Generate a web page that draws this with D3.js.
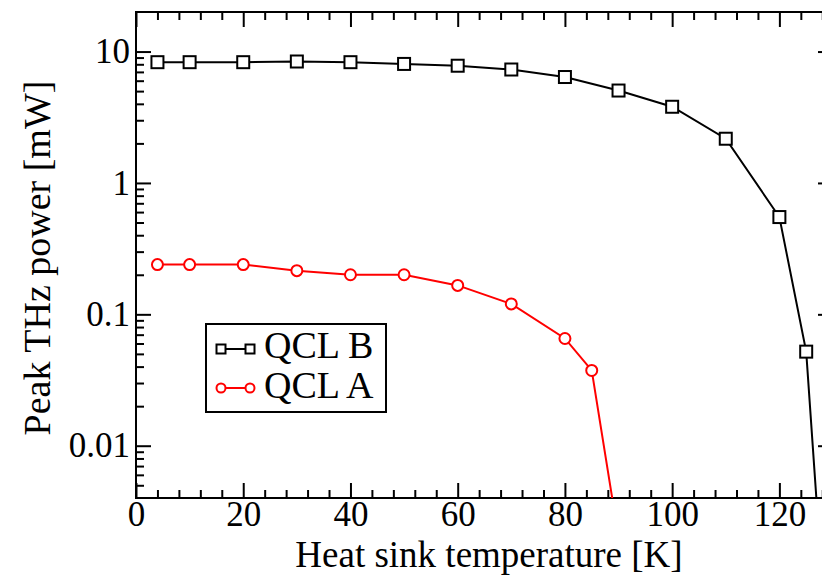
<!DOCTYPE html>
<html>
<head>
<meta charset="utf-8">
<script src="https://cdn.jsdelivr.net/npm/d3@7"></script>
<style>
  body { margin: 0; background: #fff; }
</style>
</head>
<body>
<div id="chart"></div>
<script>
// data
var tempB = [4, 10, 20, 30, 40, 50, 60, 70, 80, 90, 100, 110, 120, 125, 128];
var powerB = [8.3, 8.3, 8.3, 8.4, 8.3, 8.05, 7.8, 7.3, 6.4, 5.05, 3.8, 2.17, 0.55, 0.052, 0.0009];
var tempA = [4, 10, 20, 30, 40, 50, 60, 70, 80, 85, 90];
var powerA = [0.239, 0.239, 0.239, 0.215, 0.2, 0.2, 0.166, 0.12, 0.0655, 0.0374, 0.002];

var xTicks = [0, 20, 40, 60, 80, 100, 120];
var yTicks = [0.01, 0.1, 1, 10];
var yTickLabels = ["0.01", "0.1", "1", "10"];
var legendNames = ["QCL B", "QCL A"];

var FONT = "'Liberation Serif', 'Times New Roman', Times, serif";
var W = 822, H = 576;
var margin = {left: 136, top: 12, right: 833, bottom: 498};

var svg = d3.select("#chart").append("svg")
    .attr("width", W)
    .attr("height", H)
    .attr("font-family", FONT);

var x = d3.scaleLinear().domain([0, 130]).range([margin.left, margin.right]);
var y = d3.scaleLog().domain([0.004, 20]).range([margin.bottom, margin.top]);

svg.append("defs").append("clipPath")
    .attr("id", "plotclip")
  .append("rect")
    .attr("x", margin.left)
    .attr("y", margin.top)
    .attr("width", margin.right - margin.left)
    .attr("height", margin.bottom - margin.top);

// minor ticks
var xMinor = d3.range(0, 131, 4).filter(function(d) { return d % 20 != 0; });
var yMinor = [];
[0.001, 0.01, 0.1, 1, 10].forEach(function(dec) {
    for (var k = 2; k <= 9; k++) {
        var v = dec * k;
        if (v > 0.004 && v < 20) yMinor.push(v);
    }
});

var major = 15, minor = 8;

function styleAxis(g) {
    g.attr("font-family", FONT).attr("font-size", 35);
    g.select(".domain").remove();
    g.selectAll("line").attr("stroke", "#000").attr("stroke-width", 2);
    g.selectAll("text").attr("font-family", FONT).attr("fill", "#000");
}

// bottom
svg.append("g")
    .attr("transform", "translate(0," + margin.bottom + ")")
    .call(d3.axisBottom(x).tickValues(xTicks).tickSize(-major).tickPadding(3)
        .tickFormat(d3.format("d")))
    .call(styleAxis);
svg.append("g")
    .attr("transform", "translate(0," + margin.bottom + ")")
    .call(d3.axisBottom(x).tickValues(xMinor).tickSize(-minor).tickFormat(""))
    .call(styleAxis);
// top
svg.append("g")
    .attr("transform", "translate(0," + margin.top + ")")
    .call(d3.axisTop(x).tickValues(xTicks).tickSize(-major).tickFormat(""))
    .call(styleAxis);
svg.append("g")
    .attr("transform", "translate(0," + margin.top + ")")
    .call(d3.axisTop(x).tickValues(xMinor).tickSize(-minor).tickFormat(""))
    .call(styleAxis);
// left
svg.append("g")
    .attr("transform", "translate(" + margin.left + ",0)")
    .call(d3.axisLeft(y).tickValues(yTicks).tickSize(-major).tickPadding(6)
        .tickFormat(function(d, i) { return yTickLabels[i]; }))
    .call(styleAxis);
svg.append("g")
    .attr("transform", "translate(" + margin.left + ",0)")
    .call(d3.axisLeft(y).tickValues(yMinor).tickSize(-minor).tickFormat(""))
    .call(styleAxis);
// right
svg.append("g")
    .attr("transform", "translate(" + margin.right + ",0)")
    .call(d3.axisRight(y).tickValues(yTicks).tickSize(-major).tickFormat(""))
    .call(styleAxis);
svg.append("g")
    .attr("transform", "translate(" + margin.right + ",0)")
    .call(d3.axisRight(y).tickValues(yMinor).tickSize(-minor).tickFormat(""))
    .call(styleAxis);

// frame
svg.append("rect")
    .attr("x", margin.left)
    .attr("y", margin.top)
    .attr("width", margin.right - margin.left)
    .attr("height", margin.bottom - margin.top)
    .attr("fill", "none")
    .attr("stroke", "#000")
    .attr("stroke-width", 2);

// series
var line = d3.line()
    .x(function(d) { return x(d[0]); })
    .y(function(d) { return y(d[1]); });

var plot = svg.append("g").attr("clip-path", "url(#plotclip)");

var dataB = d3.zip(tempB, powerB);
var dataA = d3.zip(tempA, powerA);

plot.append("path")
    .datum(dataB)
    .attr("d", line)
    .attr("fill", "none")
    .attr("stroke", "#000")
    .attr("stroke-width", 2);
plot.selectAll(".sq")
    .data(dataB)
  .enter().append("rect")
    .attr("class", "sq")
    .attr("x", function(d) { return x(d[0]) - 6; })
    .attr("y", function(d) { return y(d[1]) - 6; })
    .attr("width", 12)
    .attr("height", 12)
    .attr("fill", "#fff")
    .attr("stroke", "#000")
    .attr("stroke-width", 2);

plot.append("path")
    .datum(dataA)
    .attr("d", line)
    .attr("fill", "none")
    .attr("stroke", "#ff0000")
    .attr("stroke-width", 2);
plot.selectAll(".ci")
    .data(dataA)
  .enter().append("circle")
    .attr("class", "ci")
    .attr("cx", function(d) { return x(d[0]); })
    .attr("cy", function(d) { return y(d[1]); })
    .attr("r", 5.5)
    .attr("fill", "#fff")
    .attr("stroke", "#ff0000")
    .attr("stroke-width", 2);

// axis titles
svg.append("text")
    .attr("x", 489)
    .attr("y", 567)
    .attr("text-anchor", "middle")
    .attr("font-size", 37)
    .text("Heat sink temperature [K]");

svg.append("text")
    .attr("transform", "translate(50,258) rotate(-90)")
    .attr("text-anchor", "middle")
    .attr("font-size", 38)
    .text("Peak THz power [mW]");

// legend
var legend = svg.append("g");
legend.append("rect")
    .attr("x", 206)
    .attr("y", 324)
    .attr("width", 180)
    .attr("height", 88)
    .attr("fill", "#fff")
    .attr("stroke", "#000")
    .attr("stroke-width", 2);

var legColors = ["#000", "#ff0000"];
legendNames.forEach(function(name, i) {
    var ly = 349 + i * 39;
    legend.append("line")
        .attr("x1", 221).attr("x2", 250)
        .attr("y1", ly).attr("y2", ly)
        .attr("stroke", legColors[i])
        .attr("stroke-width", 2);
    [221, 250].forEach(function(mx) {
        if (i == 0) {
            legend.append("rect")
                .attr("x", mx - 4.5).attr("y", ly - 4.5)
                .attr("width", 9).attr("height", 9)
                .attr("fill", "#fff")
                .attr("stroke", "#000")
                .attr("stroke-width", 2);
        } else {
            legend.append("circle")
                .attr("cx", mx).attr("cy", ly)
                .attr("r", 4.5)
                .attr("fill", "#fff")
                .attr("stroke", "#ff0000")
                .attr("stroke-width", 2);
        }
    });
    legend.append("text")
        .attr("x", 264)
        .attr("y", 358 + i * 40)
        .attr("font-size", 38)
        .text(name);
});
</script>
</body>
</html>
